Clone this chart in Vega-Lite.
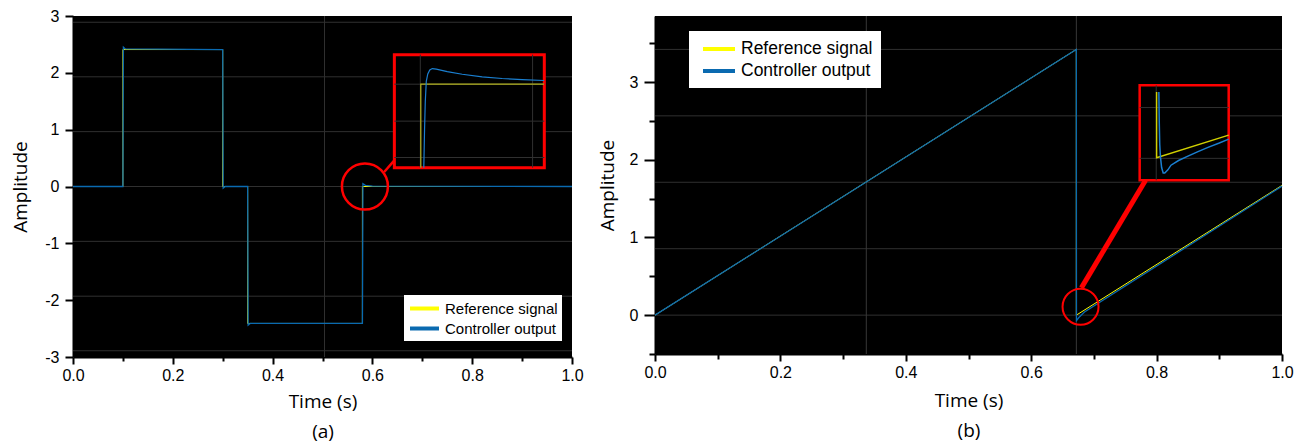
{
  "$schema": "https://vega.github.io/schema/vega-lite/v6.json",
  "background": "white",
  "padding": {"left": 11, "top": 8, "right": 12, "bottom": 5},
  "spacing": 14,
  "config": {"view": {"fill": "black", "stroke": null}},
  "resolve": {"scale": {"color": "independent"}, "legend": {"color": "independent"}},
  "datasets": {
    "gridA_h": [{"v": -2.89}, {"v": -1.93}, {"v": -0.965}, {"v": 0}, {"v": 0.965}, {"v": 1.93}, {"v": 2.89}],
    "gridA_v": [{"v": 0.504}],
    "sigA": [
      {"series": "Reference signal", "t": 0, "a": 0},
      {"series": "Reference signal", "t": 0.1, "a": 0},
      {"series": "Reference signal", "t": 0.1, "a": 2.41},
      {"series": "Reference signal", "t": 0.3, "a": 2.41},
      {"series": "Reference signal", "t": 0.3, "a": 0},
      {"series": "Reference signal", "t": 0.35, "a": 0},
      {"series": "Reference signal", "t": 0.35, "a": -2.41},
      {"series": "Reference signal", "t": 0.58, "a": -2.41},
      {"series": "Reference signal", "t": 0.58, "a": 0},
      {"series": "Reference signal", "t": 1.0, "a": 0},
      {"series": "Controller output", "t": 0, "a": 0},
      {"series": "Controller output", "t": 0.1, "a": 0},
      {"series": "Controller output", "t": 0.101, "a": 2.45},
      {"series": "Controller output", "t": 0.105, "a": 2.42},
      {"series": "Controller output", "t": 0.3, "a": 2.41},
      {"series": "Controller output", "t": 0.301, "a": -0.03},
      {"series": "Controller output", "t": 0.305, "a": 0},
      {"series": "Controller output", "t": 0.35, "a": 0},
      {"series": "Controller output", "t": 0.351, "a": -2.44},
      {"series": "Controller output", "t": 0.355, "a": -2.41},
      {"series": "Controller output", "t": 0.58, "a": -2.41},
      {"series": "Controller output", "t": 0.581, "a": 0.05},
      {"series": "Controller output", "t": 0.586, "a": 0.02},
      {"series": "Controller output", "t": 0.6, "a": 0.005},
      {"series": "Controller output", "t": 1.0, "a": 0}
    ],
    "circleA": [{"t": 0.585, "a": 0}],
    "linkA": [{"t": 0.6236, "a": 0.255, "t2": 0.644, "a2": 0.46}],
    "boxA": [{"t": 0.644, "t2": 0.9445, "a": 0.33, "a2": 2.32}],
    "insetGridA": [
      {"t": 0.696, "t2": 0.696, "a": 0.33, "a2": 2.32},
      {"t": 0.921, "t2": 0.921, "a": 0.33, "a2": 2.32},
      {"t": 0.644, "t2": 0.9445, "a": 1.80, "a2": 1.80},
      {"t": 0.644, "t2": 0.9445, "a": 1.15, "a2": 1.15},
      {"t": 0.644, "t2": 0.9445, "a": 0.51, "a2": 0.51}
    ],
    "insetRefA": [{"t": 0.697, "a": 0.33}, {"t": 0.697, "a": 1.80}, {"t": 0.944, "a": 1.80}],
    "insetCtrlA": [
      {"t": 0.703, "a": 0.33}, {"t": 0.7045, "a": 1.0}, {"t": 0.706, "a": 1.5}, {"t": 0.708, "a": 1.85},
      {"t": 0.711, "a": 1.98}, {"t": 0.715, "a": 2.05}, {"t": 0.72, "a": 2.075}, {"t": 0.728, "a": 2.065},
      {"t": 0.75, "a": 2.02}, {"t": 0.78, "a": 1.975}, {"t": 0.82, "a": 1.93}, {"t": 0.86, "a": 1.9},
      {"t": 0.9, "a": 1.88}, {"t": 0.944, "a": 1.865}
    ],
    "gridB_h": [{"v": 0}, {"v": 0.855}, {"v": 1.71}, {"v": 2.565}, {"v": 3.42}],
    "gridB_v": [{"v": 0.337}, {"v": 0.672}],
    "sigB": [
      {"series": "Reference signal", "t": 0, "a": 0},
      {"series": "Reference signal", "t": 0.672, "a": 3.42},
      {"series": "Reference signal", "t": 0.672, "a": 0},
      {"series": "Reference signal", "t": 1.0, "a": 1.67},
      {"series": "Controller output", "t": 0, "a": 0},
      {"series": "Controller output", "t": 0.672, "a": 3.42},
      {"series": "Controller output", "t": 0.6722, "a": -0.07},
      {"series": "Controller output", "t": 0.676, "a": -0.03},
      {"series": "Controller output", "t": 0.685, "a": 0.04},
      {"series": "Controller output", "t": 1.0, "a": 1.66}
    ],
    "circleB": [{"t": 0.6787, "a": 0.108}],
    "linkB": [{"t": 0.68, "a": 0.351, "t2": 0.7824, "a2": 1.736}],
    "boxB": [{"t": 0.773, "t2": 0.915, "a": 1.736, "a2": 2.958}],
    "insetGridB": [
      {"t": 0.7994, "t2": 0.7994, "a": 1.736, "a2": 2.958},
      {"t": 0.773, "t2": 0.915, "a": 2.672, "a2": 2.672},
      {"t": 0.773, "t2": 0.915, "a": 2.018, "a2": 2.018}
    ],
    "insetRefB": [{"t": 0.8, "a": 2.872}, {"t": 0.8, "a": 2.026}, {"t": 0.915, "a": 2.317}],
    "insetCtrlB": [
      {"t": 0.8036, "a": 2.872}, {"t": 0.8042, "a": 2.5}, {"t": 0.805, "a": 2.2}, {"t": 0.806, "a": 2.05},
      {"t": 0.808, "a": 1.9}, {"t": 0.8105, "a": 1.83}, {"t": 0.813, "a": 1.83}, {"t": 0.818, "a": 1.87},
      {"t": 0.823, "a": 1.93}, {"t": 0.835, "a": 1.99}, {"t": 0.85, "a": 2.047}, {"t": 0.866, "a": 2.105},
      {"t": 0.882, "a": 2.159}, {"t": 0.9, "a": 2.215}, {"t": 0.915, "a": 2.265}
    ]
  },
  "hconcat": [
    {
      "width": 499,
      "height": 341,
      "layer": [
        {
          "data": {"name": "gridA_h"},
          "mark": {"type": "rule", "stroke": "#303030", "strokeWidth": 1},
          "encoding": {
            "y": {"field": "v", "type": "quantitative", "scale": {"domain": [-3, 3], "nice": false, "zero": false},
              "axis": {"values": [-3, -2.5, -2, -1.5, -1, -0.5, 0, 0.5, 1, 1.5, 2, 2.5, 3],
                "labelExpr": "datum.value % 1 == 0 ? '' + datum.value : ''",
                "labelOverlap": false, "labelBound": false, "labelFlush": false, "grid": false,
                "domainColor": "black", "domainWidth": 2, "tickColor": "black", "tickWidth": 2,
                "tickSize": {"condition": {"test": "datum.value % 1 != 0", "value": 5}, "value": 8},
                "labelFont": "Liberation Sans", "labelFontSize": 16, "labelColor": "black", "labelPadding": 6,
                "title": "Amplitude", "titleFont": "Open Sans", "titleFontSize": 19, "titleFontWeight": "normal",
                "titleColor": "black", "titlePadding": 14}}
          }
        },
        {
          "data": {"name": "gridA_v"},
          "mark": {"type": "rule", "stroke": "#303030", "strokeWidth": 1},
          "encoding": {
            "x": {"field": "v", "type": "quantitative", "scale": {"domain": [0, 1], "nice": false, "zero": false},
              "axis": {"values": [0, 0.1, 0.2, 0.3, 0.4, 0.5, 0.6, 0.7, 0.8, 0.9, 1],
                "labelExpr": "round(datum.value * 10) % 2 == 0 ? format(datum.value, '.1f') : ''",
                "labelOverlap": false, "labelBound": false, "labelFlush": false, "grid": false,
                "domainColor": "black", "domainWidth": 2, "tickColor": "black", "tickWidth": 2,
                "tickSize": {"condition": {"test": "round(datum.value * 10) % 2 == 1", "value": 4}, "value": 7},
                "labelFont": "Liberation Sans", "labelFontSize": 16, "labelColor": "black", "labelPadding": 3,
                "title": ["Time (s)", "(a)"], "titleFont": "Open Sans", "titleFontSize": 19, "titleFontWeight": "normal",
                "titleColor": "black", "titleLineHeight": 30, "titlePadding": 9}}
          }
        },
        {
          "data": {"name": "sigA"},
          "transform": [{"filter": "datum.series == 'Reference signal'"}],
          "mark": {"type": "line", "strokeWidth": 1},
          "encoding": {
            "x": {"field": "t", "type": "quantitative"},
            "y": {"field": "a", "type": "quantitative"},
            "order": {"value": null},
            "color": {"field": "series", "type": "nominal",
              "scale": {"domain": ["Reference signal", "Controller output"], "range": ["#ffff00", "#0a6ab0"]},
              "legend": {"orient": "none", "legendX": 331, "legendY": 279, "title": null, "fillColor": "white",
                "padding": 4, "symbolType": "M-2,0H2", "symbolSize": 210, "symbolStrokeWidth": 4,
                "symbolOffset": 7, "labelOffset": 11, "labelFont": "Liberation Sans", "labelFontSize": 15,
                "labelColor": "black", "rowPadding": 2}}
          }
        },
        {
          "data": {"name": "sigA"},
          "transform": [{"filter": "datum.series == 'Controller output'"}],
          "mark": {"type": "line", "strokeWidth": 1.3},
          "encoding": {
            "x": {"field": "t", "type": "quantitative"},
            "y": {"field": "a", "type": "quantitative"},
            "order": {"value": null},
            "color": {"field": "series", "type": "nominal"}
          }
        },
        {
          "data": {"name": "circleA"},
          "mark": {"type": "point", "shape": "circle", "size": 2116, "filled": false, "stroke": "#ff0000", "strokeWidth": 2.5, "opacity": 1},
          "encoding": {"x": {"field": "t", "type": "quantitative"}, "y": {"field": "a", "type": "quantitative"}}
        },
        {
          "data": {"name": "linkA"},
          "mark": {"type": "rule", "stroke": "#ff0000", "strokeWidth": 2.5},
          "encoding": {"x": {"field": "t", "type": "quantitative"}, "y": {"field": "a", "type": "quantitative"}, "x2": {"field": "t2"}, "y2": {"field": "a2"}}
        },
        {
          "data": {"name": "boxA"},
          "mark": {"type": "rect", "fill": "black", "stroke": "#ff0000", "strokeWidth": 3},
          "encoding": {"x": {"field": "t", "type": "quantitative"}, "y": {"field": "a", "type": "quantitative"}, "x2": {"field": "t2"}, "y2": {"field": "a2"}}
        },
        {
          "data": {"name": "insetGridA"},
          "mark": {"type": "rule", "stroke": "#303030", "strokeWidth": 1},
          "encoding": {"x": {"field": "t", "type": "quantitative"}, "y": {"field": "a", "type": "quantitative"}, "x2": {"field": "t2"}, "y2": {"field": "a2"}}
        },
        {
          "data": {"name": "insetRefA"},
          "mark": {"type": "line", "color": "#b4b420", "strokeWidth": 1.2},
          "encoding": {"x": {"field": "t", "type": "quantitative"}, "y": {"field": "a", "type": "quantitative"}, "order": {"value": null}}
        },
        {
          "data": {"name": "insetCtrlA"},
          "mark": {"type": "line", "color": "#1a7fd0", "strokeWidth": 1.2},
          "encoding": {"x": {"field": "t", "type": "quantitative"}, "y": {"field": "a", "type": "quantitative"}, "order": {"value": null}}
        }
      ]
    },
    {
      "width": 627,
      "height": 338,
      "layer": [
        {
          "data": {"name": "gridB_h"},
          "mark": {"type": "rule", "stroke": "#303030", "strokeWidth": 1},
          "encoding": {
            "y": {"field": "v", "type": "quantitative", "scale": {"domain": [-0.5, 3.85], "nice": false, "zero": false},
              "axis": {"values": [-0.5, 0, 0.5, 1, 1.5, 2, 2.5, 3, 3.5],
                "labelExpr": "datum.value % 1 == 0 ? '' + datum.value : ''",
                "labelOverlap": false, "labelBound": false, "labelFlush": false, "grid": false,
                "domainColor": "black", "domainWidth": 2, "tickColor": "black", "tickWidth": 2,
                "tickSize": {"condition": {"test": "datum.value % 1 != 0", "value": 6}, "value": 11},
                "labelFont": "Liberation Sans", "labelFontSize": 16, "labelColor": "black", "labelPadding": 6,
                "title": "Amplitude", "titleFont": "Open Sans", "titleFontSize": 19, "titleFontWeight": "normal",
                "titleColor": "black", "titlePadding": 12}}
          }
        },
        {
          "data": {"name": "gridB_v"},
          "mark": {"type": "rule", "stroke": "#383838", "strokeWidth": 1},
          "encoding": {
            "x": {"field": "v", "type": "quantitative", "scale": {"domain": [0, 1], "nice": false, "zero": false},
              "axis": {"values": [0, 0.1, 0.2, 0.3, 0.4, 0.5, 0.6, 0.7, 0.8, 0.9, 1],
                "labelExpr": "round(datum.value * 10) % 2 == 0 ? format(datum.value, '.1f') : ''",
                "labelOverlap": false, "labelBound": false, "labelFlush": false, "grid": false,
                "domainColor": "black", "domainWidth": 2, "tickColor": "black", "tickWidth": 2,
                "tickSize": {"condition": {"test": "round(datum.value * 10) % 2 == 1", "value": 5}, "value": 7},
                "labelFont": "Liberation Sans", "labelFontSize": 16, "labelColor": "black", "labelPadding": 3,
                "title": ["Time (s)", "(b)"], "titleFont": "Open Sans", "titleFontSize": 19, "titleFontWeight": "normal",
                "titleColor": "black", "titleLineHeight": 30, "titlePadding": 11}}
          }
        },
        {
          "data": {"name": "sigB"},
          "transform": [{"filter": "datum.series == 'Reference signal'"}],
          "mark": {"type": "line", "strokeWidth": 1},
          "encoding": {
            "x": {"field": "t", "type": "quantitative"},
            "y": {"field": "a", "type": "quantitative"},
            "order": {"value": null},
            "color": {"field": "series", "type": "nominal",
              "scale": {"domain": ["Reference signal", "Controller output"], "range": ["#ffff00", "#0a6ab0"]},
              "legend": {"orient": "none", "legendX": 34, "legendY": 15, "title": null, "fillColor": "white",
                "padding": 8, "symbolType": "M-2,0H2", "symbolSize": 256, "symbolStrokeWidth": 4,
                "symbolOffset": 12, "labelOffset": 12, "labelFont": "Liberation Sans", "labelFontSize": 17.5,
                "labelColor": "black", "rowPadding": 3}}
          }
        },
        {
          "data": {"name": "sigB"},
          "transform": [{"filter": "datum.series == 'Controller output'"}],
          "mark": {"type": "line", "strokeWidth": 1.3},
          "encoding": {
            "x": {"field": "t", "type": "quantitative"},
            "y": {"field": "a", "type": "quantitative"},
            "order": {"value": null},
            "color": {"field": "series", "type": "nominal"}
          }
        },
        {
          "data": {"name": "circleB"},
          "mark": {"type": "point", "shape": "circle", "size": 1296, "filled": false, "stroke": "#ff0000", "strokeWidth": 2, "opacity": 1},
          "encoding": {"x": {"field": "t", "type": "quantitative"}, "y": {"field": "a", "type": "quantitative"}}
        },
        {
          "data": {"name": "linkB"},
          "mark": {"type": "rule", "stroke": "#ff0000", "strokeWidth": 5},
          "encoding": {"x": {"field": "t", "type": "quantitative"}, "y": {"field": "a", "type": "quantitative"}, "x2": {"field": "t2"}, "y2": {"field": "a2"}}
        },
        {
          "data": {"name": "boxB"},
          "mark": {"type": "rect", "fill": "black", "stroke": "#ff0000", "strokeWidth": 2.5},
          "encoding": {"x": {"field": "t", "type": "quantitative"}, "y": {"field": "a", "type": "quantitative"}, "x2": {"field": "t2"}, "y2": {"field": "a2"}}
        },
        {
          "data": {"name": "insetGridB"},
          "mark": {"type": "rule", "stroke": "#303030", "strokeWidth": 1},
          "encoding": {"x": {"field": "t", "type": "quantitative"}, "y": {"field": "a", "type": "quantitative"}, "x2": {"field": "t2"}, "y2": {"field": "a2"}}
        },
        {
          "data": {"name": "insetRefB"},
          "mark": {"type": "line", "color": "#d0d000", "strokeWidth": 1.5},
          "encoding": {"x": {"field": "t", "type": "quantitative"}, "y": {"field": "a", "type": "quantitative"}, "order": {"value": null}}
        },
        {
          "data": {"name": "insetCtrlB"},
          "mark": {"type": "line", "color": "#1a7fd0", "strokeWidth": 1.5},
          "encoding": {"x": {"field": "t", "type": "quantitative"}, "y": {"field": "a", "type": "quantitative"}, "order": {"value": null}}
        }
      ]
    }
  ]
}
